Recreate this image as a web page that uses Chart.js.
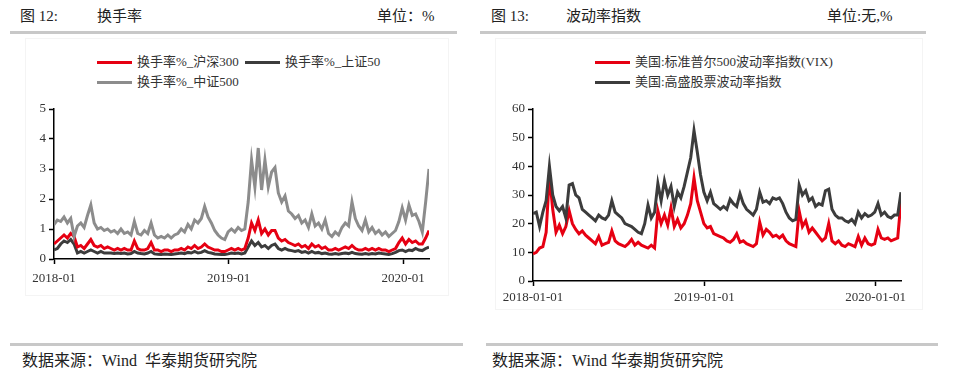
<!DOCTYPE html>
<html>
<head>
<meta charset="utf-8">
<script src="https://cdn.jsdelivr.net/npm/chart.js@4.4.1/dist/chart.umd.min.js"></script>
<style>
  body { margin: 0; width: 956px; height: 385px; background: #fff; position: relative; overflow: hidden;
         font-family: "Liberation Serif", "Noto Sans CJK SC", serif; color: #222; }
  .abs { position: absolute; white-space: nowrap; }
  .t { font-size: 15px; line-height: 18px; }
  .bar { position: absolute; height: 3px; background: #c8c8c8; }
  .frame { position: absolute; border: 1px solid #f4f4f4; }
  .lg { position: absolute; font-size: 13px; line-height: 16px; display: flex; align-items: center; white-space: nowrap; color: #333; }
  .lg i { display: inline-block; width: 35px; height: 3px; margin-right: 5px; }
  canvas { position: absolute; }
</style>
</head>
<body>

<!-- left panel -->
<div class="abs t" style="left:20px;top:7px;">图 12:</div>
<div class="abs t" style="left:97px;top:7px;">换手率</div>
<div class="abs t" style="left:377px;top:7px;">单位：%</div>
<div class="bar" style="left:10px;top:31px;width:447px;"></div>
<div class="frame" style="left:25px;top:38px;width:422px;height:256px;"></div>
<div class="lg" style="left:97px;top:54px;"><i style="background:#e60012"></i>换手率%_沪深300</div>
<div class="lg" style="left:245px;top:54px;"><i style="background:#3c3c3c"></i>换手率%_上证50</div>
<div class="lg" style="left:97px;top:74px;"><i style="background:#8c8c8c"></i>换手率%_中证500</div>
<canvas id="turnover" width="478" height="194" style="left:0;top:95px;"></canvas>
<div class="bar" style="left:10px;top:343px;width:453px;"></div>
<div class="abs" style="left:22px;top:351px;font-size:16px;line-height:20px;">数据来源：Wind&nbsp; 华泰期货研究院</div>

<!-- right panel -->
<div class="abs t" style="left:491px;top:7px;">图 13:</div>
<div class="abs t" style="left:566px;top:7px;">波动率指数</div>
<div class="abs t" style="left:827px;top:7px;">单位:无,%</div>
<div class="bar" style="left:480px;top:31px;width:446px;"></div>
<div class="frame" style="left:495px;top:38px;width:426px;height:270px;"></div>
<div class="lg" style="left:595px;top:54px;"><i style="background:#e60012"></i>美国:标准普尔500波动率指数(VIX)</div>
<div class="lg" style="left:595px;top:74px;"><i style="background:#3c3c3c"></i>美国:高盛股票波动率指数</div>
<canvas id="vol" width="478" height="216" style="left:478px;top:95px;"></canvas>
<div class="bar" style="left:486px;top:343px;width:452px;"></div>
<div class="abs" style="left:492px;top:351px;font-size:16px;line-height:20px;">数据来源：Wind 华泰期货研究院</div>

<script>
// weekly readings, week 0 = first week of 2018
var turnoverHs300 = [
  0.5, 0.6, 0.7, 0.8, 0.7, 0.85, 0.75,
  0.4, 0.45, 0.35, 0.5, 0.65,
  0.45, 0.4, 0.45, 0.35, 0.4,
  0.35, 0.3, 0.35, 0.3, 0.35, 0.3, 0.3,
  0.6,
  0.35, 0.3, 0.3, 0.35,
  0.55,
  0.3, 0.3, 0.25, 0.3, 0.3, 0.25, 0.3,
  0.3, 0.35, 0.3, 0.4, 0.35, 0.45, 0.35, 0.4,
  0.5,
  0.4, 0.35, 0.3, 0.3, 0.25, 0.25,
  0.3, 0.35, 0.3, 0.35, 0.3, 0.35,
  0.7, 1.2, 0.95, 1.3,
  0.85, 1.0, 0.8, 0.95, 0.95, 0.7, 0.6, 0.65,
  0.55, 0.5, 0.45, 0.5, 0.4, 0.45,
  0.35, 0.5, 0.4, 0.45, 0.35, 0.4,
  0.3, 0.3, 0.35, 0.3,
  0.35, 0.4, 0.35,
  0.45,
  0.35, 0.3, 0.3, 0.35, 0.3, 0.35,
  0.3, 0.35, 0.3, 0.3, 0.25, 0.3, 0.35,
  0.55, 0.7, 0.5, 0.65, 0.55, 0.6,
  0.5, 0.5, 0.7, 0.95
];
var turnoverSz50 = [
  0.3, 0.35, 0.5, 0.6, 0.55, 0.65, 0.5,
  0.2, 0.25, 0.2, 0.25, 0.3,
  0.25, 0.2, 0.25, 0.2, 0.2,
  0.2, 0.18, 0.2, 0.18, 0.2, 0.17, 0.18,
  0.25,
  0.2, 0.18, 0.17, 0.2,
  0.25,
  0.17, 0.16, 0.15, 0.17, 0.16, 0.15, 0.17,
  0.18, 0.2, 0.18, 0.22, 0.2, 0.25, 0.2, 0.22,
  0.28,
  0.22, 0.2, 0.17, 0.16, 0.15, 0.15,
  0.17, 0.2, 0.18, 0.2, 0.17, 0.2,
  0.4, 0.6, 0.45, 0.55,
  0.4, 0.45, 0.35, 0.45, 0.5, 0.35, 0.3, 0.35,
  0.3, 0.28, 0.25, 0.28, 0.22, 0.25,
  0.2, 0.25, 0.2, 0.22, 0.18, 0.2,
  0.17, 0.16, 0.18, 0.16,
  0.18, 0.2, 0.18,
  0.22,
  0.18, 0.17, 0.16, 0.18, 0.16, 0.18,
  0.17, 0.2, 0.18, 0.17, 0.15, 0.18, 0.22,
  0.28, 0.3, 0.25, 0.3, 0.28, 0.35,
  0.3, 0.28, 0.35, 0.4
];
var turnoverZz500 = [
  1.15, 1.3, 1.25, 1.4, 1.2, 1.35, 0.75,
  1.1, 1.2, 1.05, 1.45, 1.8,
  1.2, 1.0, 1.05, 0.95, 1.0,
  0.9, 0.95, 0.85, 1.0, 0.85, 0.9, 0.8,
  1.25,
  0.85, 0.8, 0.95, 0.85,
  1.2,
  0.8, 0.7, 0.75, 0.7, 0.8, 0.7, 0.8,
  0.85, 1.0, 0.9, 1.15, 1.0, 1.3, 1.2, 1.35,
  1.75,
  1.4, 1.2, 0.95, 0.8, 0.7, 0.65,
  0.9, 1.0, 0.9, 1.05, 0.95, 1.0,
  1.9, 3.3, 2.4, 3.7,
  2.3, 3.3, 2.4, 2.9, 3.05, 2.2, 1.9, 2.1,
  1.6, 1.5, 1.35, 1.45, 1.2, 1.3,
  1.05, 1.5, 1.1, 1.2, 1.0, 1.3,
  0.85, 0.75, 0.9, 0.8,
  1.05, 1.2, 1.1,
  1.9,
  1.35, 1.1, 0.95, 1.3, 0.9, 1.05,
  0.85, 0.95, 0.8, 0.9, 0.75, 0.85, 0.95,
  1.25, 1.7, 1.3, 1.8, 1.45, 1.5,
  1.25, 0.9, 1.9, 3.0
];

var vix = [
  9.5, 10, 11.5, 12, 17,
  37,
  25, 17, 19.5, 16.5,
  19, 24.5, 20,
  18, 16.5, 17.5, 16, 15,
  14, 13, 15.5, 12.5, 13, 13.5,
  17.5,
  14, 13, 12.5, 12,
  13, 14.5, 12.5, 13.5, 12.5,
  12, 11.5, 12.5, 11.5,
  24.5, 20, 23, 19.5, 25.5,
  19, 21.5, 18.5, 20,
  23, 27, 36, 28,
  24, 20, 18.5,
  19, 16.5, 16,
  15.5, 15, 14, 13.5,
  14.5, 16.5, 13.5, 14,
  13, 12.5, 12, 13,
  20.5, 16, 18,
  17, 15.5, 16, 15, 16,
  14, 13, 12.5, 12,
  24.5,
  19, 21, 17, 18.5, 17,
  15.5, 14, 15, 20,
  14, 13, 14,
  12.5, 12, 13, 12.5, 12,
  15.5,
  12.5, 15, 13, 12.5, 13,
  18,
  15, 14.5, 15, 14, 14.5, 15, 28
];
var gsVol = [
  23.5, 24, 19, 24, 28,
  40,
  30, 26, 24.5, 26,
  22, 33.5, 34,
  30, 29, 25, 24, 23,
  22, 21, 23, 22, 21.5, 23,
  28,
  24, 23, 22, 20,
  19.5, 19, 18, 17, 16.5,
  20, 26.5, 22, 24,
  34, 28, 35, 30, 33,
  26, 31, 29, 33,
  38, 43, 52.5, 45,
  37, 31, 28,
  31, 27, 26,
  25, 26, 25, 28.5,
  27, 26, 30.5, 27,
  25, 24, 23, 25,
  31, 27.5, 28,
  27, 29, 28.5, 29, 27,
  24, 22, 21, 21.5,
  33.5,
  30, 31.5, 28, 29, 26,
  27, 26.5, 31.5, 32,
  25, 23, 22,
  22, 21, 20.5, 21.5, 20,
  24,
  22, 23.5, 22.5, 23, 24,
  27,
  23, 24, 22.5, 22, 23, 23, 31
];

var xTickDays = [0, 365, 730];
var turnoverTickLabels = ["2018-01", "2019-01", "2020-01"];
var volTickLabels = ["2018-01-01", "2019-01-01", "2020-01-01"];

var FONT = '"Liberation Serif", "Noto Sans CJK SC", serif';

function toPoints(arr) {
  return arr.map((v, i) => ({ x: i * 7, y: v }));
}

function makeChart(id, datasets, yMax, yStep, tickLabels, yWidth, padRight, xPad) {
  let ctx = document.getElementById(id).getContext("2d");
  return new Chart(ctx, {
    type: "line",
    data: {
      datasets: datasets.map((d) => ({
        label: d.label,
        data: toPoints(d.data),
        borderColor: d.color,
        borderWidth: 3,
        pointRadius: 0,
        tension: 0,
        fill: false,
      })),
    },
    options: {
      responsive: false,
      animation: false,
      layout: { padding: { left: 0, right: padRight, top: 14, bottom: 0 } },
      plugins: { legend: { display: false }, tooltip: { enabled: false } },
      scales: {
        x: {
          type: "linear",
          min: 0,
          max: 784,
          afterBuildTicks: (s) => { s.ticks = xTickDays.map((v) => ({ value: v })); },
          afterFit: (s) => { s.height = 30; },
          ticks: {
            autoSkip: false,
            maxRotation: 0,
            padding: xPad,
            color: "#333",
            font: { family: FONT, size: 13 },
            callback: (v) => tickLabels[xTickDays.indexOf(v)],
          },
          grid: { drawOnChartArea: false, tickLength: 5, tickColor: "#000", tickWidth: 1.5 },
          border: { color: "#000", width: 1.5 },
        },
        y: {
          min: 0,
          max: yMax,
          afterFit: (s) => { s.width = yWidth; },
          ticks: { stepSize: yStep, padding: 3, color: "#333", font: { family: FONT, size: 13 } },
          grid: { drawOnChartArea: false, tickLength: 5, tickColor: "#000", tickWidth: 1.5 },
          border: { color: "#000", width: 1.5 },
        },
      },
    },
  });
}

makeChart("turnover", [
  { label: "换手率%_中证500", data: turnoverZz500, color: "#8c8c8c" },
  { label: "换手率%_沪深300", data: turnoverHs300, color: "#e60012" },
  { label: "换手率%_上证50", data: turnoverSz50, color: "#3c3c3c" },
], 5, 1, turnoverTickLabels, 54, 49, 7);

makeChart("vol", [
  { label: "美国:高盛股票波动率指数", data: gsVol, color: "#3c3c3c" },
  { label: "美国:标准普尔500波动率指数(VIX)", data: vix, color: "#e60012" },
], 60, 10, volTickLabels, 55, 55, 4);
</script>
</body>
</html>
